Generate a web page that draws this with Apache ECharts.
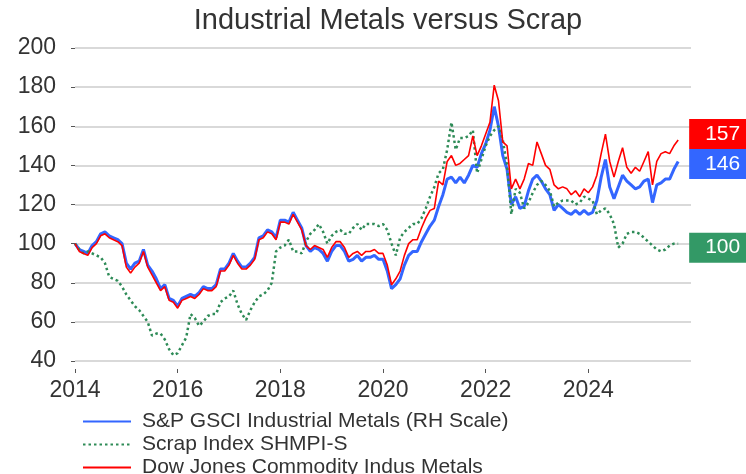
<!DOCTYPE html>
<html><head><meta charset="utf-8">
<script src="https://cdn.jsdelivr.net/npm/echarts@6/dist/echarts.min.js"></script>
<style>html,body{margin:0;padding:0;background:#fff}#c{width:746px;height:474px}</style>
</head><body><div id="c"></div>
<script>
// Monthly observations, Jan 2014 .. Oct 2025
const startYear = 2014;
const gsci = [
100, 97, 96, 95, 99, 101, 105, 106, 104, 103, 102, 100,
90, 87, 90, 91, 97, 89, 86, 82, 77, 79, 72, 71,
68, 72, 73, 74, 73, 75, 78, 77, 77, 79, 87, 87,
90, 95, 91, 88, 88, 90, 93, 103, 104, 107, 106, 103,
112, 112, 111, 116, 112, 108, 99, 96, 98, 97, 95, 91,
96, 99, 99, 96, 91, 92, 94, 91, 93, 93, 94, 92,
92, 86, 77, 79, 82, 89, 94, 96, 96, 101, 105, 109,
112, 119, 125, 133, 134, 131, 134, 131, 135, 140, 139, 146,
151, 158, 170, 160, 145, 138, 120, 124, 118, 119, 127, 133,
135, 132, 128, 125, 117, 120, 118, 116, 115, 117, 115, 117,
115, 116, 122, 134, 143, 129, 123, 129, 135, 132, 130, 128,
129, 132, 133, 121, 130, 131, 133, 133, 138, 142
];
const scrap = [
100, 97, 95, 96, 95, 94, 93, 90, 83, 82, 81, 78,
74, 71, 68, 66, 63, 60, 53, 54, 54, 51, 46, 43,
44, 48, 52, 64, 62, 58, 60, 63, 64, 64, 70, 72,
73, 76, 69, 64, 61, 66, 70, 73, 74, 76, 80, 96,
98, 99, 102, 96, 96, 95, 101, 105, 107, 110, 106, 100,
104, 106, 107, 105, 105, 108, 110, 107, 110, 110, 110, 109,
110, 107, 100, 94, 103, 106, 108, 110, 110, 113, 118, 124,
129, 136, 138, 148, 162, 148, 154, 154, 155, 158, 136, 143,
150, 155, 158, 160, 153, 140, 115, 128, 126, 118, 121, 126,
130, 132, 130, 127, 119, 121, 122, 122, 122, 120, 121, 124,
123, 122, 115, 117, 118, 115, 110, 98, 100, 105, 106, 106,
105, 103, 101, 99, 97, 96, 97, 99, 100, 100
];
const djci = [
100, 96, 95, 94, 98, 100, 104, 105, 103, 102, 101, 99,
88, 85, 88, 90, 96, 88, 84, 80, 76, 78, 71, 70,
67, 71, 72, 73, 72, 74, 77, 76, 76, 78, 86, 86,
89, 94, 90, 87, 87, 89, 92, 102, 103, 106, 105, 102,
111, 111, 110, 115, 111, 107, 99, 97, 99, 98, 97, 93,
98, 101, 101, 98, 93, 95, 96, 94, 96, 96, 97, 95,
95, 89, 79, 82, 86, 94, 100, 102, 102, 108, 113, 117,
118, 132, 130, 142, 145, 140, 141, 143, 145, 155, 145, 150,
156, 162, 181, 173, 152, 150, 128, 133, 128, 133, 141, 140,
152, 146, 140, 138, 130, 128, 129, 128, 125, 127, 124, 128,
126, 129, 135, 146, 156, 142, 134, 142, 149, 139, 136, 139,
137, 142, 147, 130, 142, 146, 147, 146, 150, 153
];
const seriesNames = ['S&P GSCI Industrial Metals (RH Scale)', 'Scrap Index SHMPI-S', 'Dow Jones Commodity Indus Metals'];
const lastLabels = ['146', '100', '157'];
const xTickYears = [2014, 2016, 2018, 2020, 2022, 2024];
const yMin = 40, yMax = 200, yStep = 20;
const xMin = 2014, xMax = 2026, xStep = 2;

const toPairs = arr => arr.map((v, i) => [startYear + i / 12, v]);
const FONT = '"Liberation Sans", Arial, sans-serif';
const colors = ['#3366ff', '#2e8b57', '#ff0000'];
const boxColors = ['#3366ff', '#339966', '#ff0000'];
const labelShift = [-6, 4, -6];

function endLabel(i) {
  return {
    show: true,
    formatter: () => lastLabels[i],
    backgroundColor: boxColors[i],
    color: '#fff',
    fontSize: 21,
    fontFamily: FONT,
    padding: [5, 20, 4, 16],
    distance: 11,
    lineHeight: 21,
    offset: [0, labelShift[i]]
  };
}

const chart = echarts.init(document.getElementById('c'), null, {renderer: 'canvas'});
chart.setOption({
  animation: false,
  backgroundColor: '#fff',
  title: {
    text: 'Industrial Metals versus Scrap',
    left: 383, textAlign: 'center', top: 1,
    textStyle: {fontSize: 29, fontWeight: 'normal', color: '#333', fontFamily: FONT}
  },
  grid: {left: 75, right: 55, top: 48, bottom: 113, containLabel: false},
  legend: {
    orient: 'vertical', left: 77, top: 406, height: 120,
    itemWidth: 48, itemHeight: 12, itemGap: 2,
    itemStyle: {opacity: 0},
    textStyle: {fontSize: 21, lineHeight: 20, color: '#333', fontFamily: FONT, padding: [0, 0, 0, 6]},
    data: seriesNames
  },
  xAxis: {
    type: 'value', min: xMin, max: xMax, interval: xStep,
    offset: 8,
    axisLine: {show: false},
    axisTick: {show: true, length: 4, lineStyle: {color: '#555'}, customValues: xTickYears},
    axisLabel: {fontSize: 23, color: '#333', fontFamily: FONT, margin: 10, customValues: xTickYears, formatter: v => String(v)},
    splitLine: {show: false}
  },
  yAxis: {
    type: 'value', min: yMin, max: yMax, interval: yStep,
    axisLine: {show: false},
    axisTick: {show: true, length: 4, lineStyle: {color: '#555'}},
    axisLabel: {fontSize: 23, color: '#333', fontFamily: FONT, margin: 19},
    splitLine: {show: true, lineStyle: {color: '#cccccc', width: 1.5}}
  },
  series: [
    {
      name: seriesNames[0], type: 'line', data: toPairs(gsci), symbol: 'none', showSymbol: false,
      lineStyle: {color: colors[0], width: 3}, itemStyle: {color: colors[0]},
      endLabel: endLabel(0), labelLayout: {moveOverlap: 'shiftY'}, z: 2
    },
    {
      name: seriesNames[1], type: 'line', data: toPairs(scrap), symbol: 'none', showSymbol: false,
      lineStyle: {color: colors[1], width: 2.5, type: [2.5, 3]}, itemStyle: {color: colors[1]},
      endLabel: endLabel(1), labelLayout: {moveOverlap: 'shiftY'}, z: 3
    },
    {
      name: seriesNames[2], type: 'line', data: toPairs(djci), symbol: 'none', showSymbol: false,
      lineStyle: {color: colors[2], width: 1.6}, itemStyle: {color: colors[2]},
      endLabel: endLabel(2), labelLayout: {moveOverlap: 'shiftY'}, z: 4
    }
  ]
});
</script>
</body></html>
